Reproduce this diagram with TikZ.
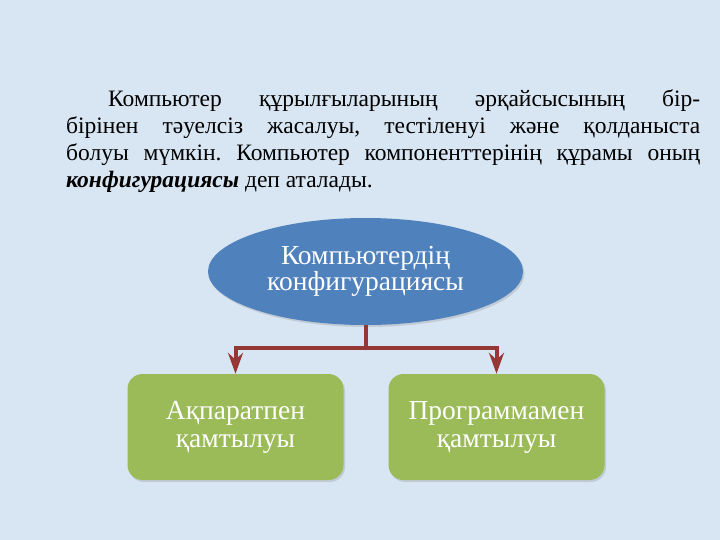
\documentclass[tikz,border=0pt]{standalone}
\usepackage{fontspec}
\setmainfont{Liberation Serif}
\usetikzlibrary{arrows.meta,shapes.geometric,shadows}
\definecolor{bgblue}{HTML}{D8E5F2}
\definecolor{ellblue}{HTML}{4F81BD}
\definecolor{boxgreen}{HTML}{9BBB59}
\definecolor{connred}{HTML}{953735}
\tikzset{
  para/.style={anchor=base west, inner sep=0pt, text width=634pt, align=justify,
    font=\fontsize{23.5}{27}\selectfont\frenchspacing},
  ellnode/.style={ellipse, fill=ellblue, minimum width=315pt, minimum height=107pt,
    inner sep=0pt, text=white, align=center, font=\fontsize{27.5}{26}\selectfont,
    drop shadow={opacity=0.25, shadow xshift=1.5pt, shadow yshift=-2pt}},
  boxnode/.style={rectangle, rounded corners=15pt, fill=boxgreen, minimum width=216pt,
    minimum height=106pt, inner sep=0pt, text=white, align=center,
    font=\fontsize{27.5}{28}\selectfont,
    drop shadow={opacity=0.25, shadow xshift=1.5pt, shadow yshift=-2pt}},
  conn/.style={draw=connred, line width=4pt},
  connarrow/.style={conn, -{Stealth[length=21pt, width=15pt, inset=7pt]}}
}
\begin{document}
\begin{tikzpicture}[x=1pt, y=-1pt]
\fill[bgblue] (0,0) rectangle (720,540);
\useasboundingbox (0,0) rectangle (720,540);
\node[para] (p) at (66,107) {\hspace*{42pt}Компьютер құрылғыларының әрқайсысының бір-\linebreak бірінен тәуелсіз жасалуы, тестіленуі және қолданыста\linebreak болуы мүмкін. Компьютер компоненттерінің құрамы оның\linebreak \textbf{\textit{конфигурациясы}} деп аталады.};
\node[ellnode] (e) at (365.5,271.5) {Компьютердің\\конфигурациясы};
\node[boxnode] (a) at (235.5,427) {Ақпаратпен\\қамтылуы};
\node[boxnode] (b) at (496.5,427) {Программамен\\қамтылуы};
\coordinate (j) at (365.5,348);
\draw[conn] (e.south) -- (j);
\draw[connarrow] (j) -| (a.north);
\draw[connarrow] (j) -| (b.north);
\end{tikzpicture}
\end{document}
